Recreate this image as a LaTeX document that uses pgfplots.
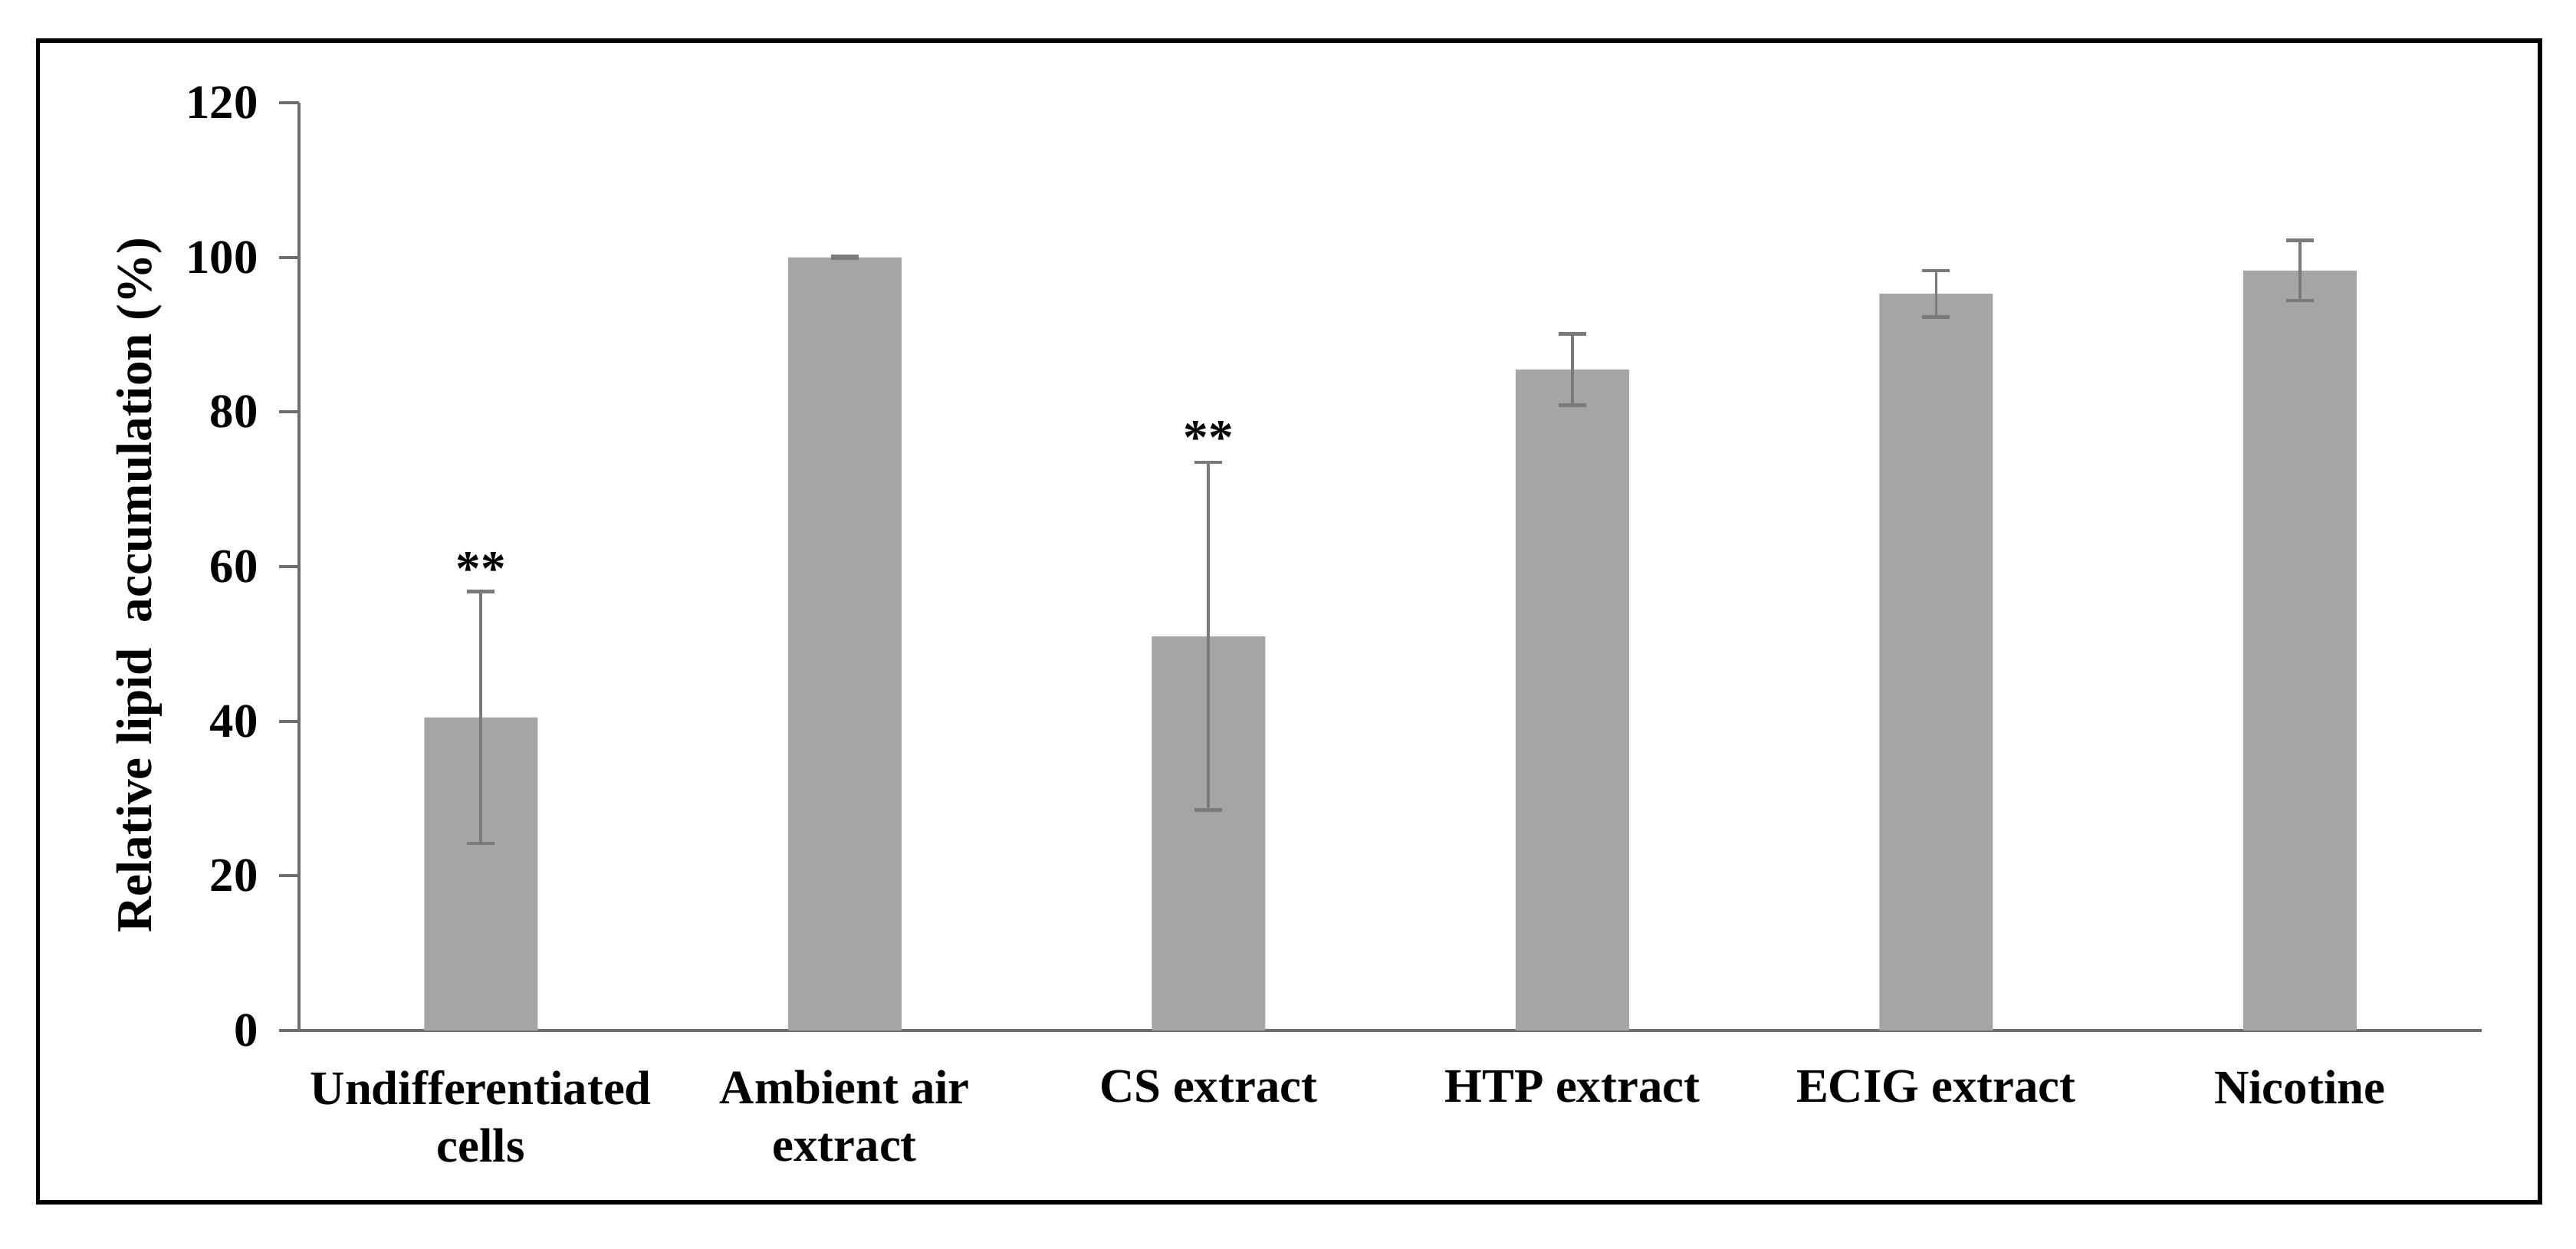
\documentclass[border=0pt]{standalone}
\usepackage{pgfplots}
\pgfplotsset{compat=1.18}
\usepackage{fontspec}
\setmainfont{Liberation Serif}
\definecolor{bargray}{HTML}{A5A5A5}
\definecolor{errgray}{HTML}{7A7A7A}
\definecolor{axgray}{HTML}{6E6E6E}
\begin{document}
\begin{tikzpicture}
\path (0,0) rectangle (23.52,11.396);
\draw[line width=1.1pt, black] (0.3465,0.42) rectangle (23.19,11.025);
\begin{axis}[
  at={(2.73cm,1.988cm)}, anchor=south west,
  scale only axis=true,
  width=19.929cm, height=8.47cm,
  xmin=-0.5, xmax=5.5, ymin=0, ymax=120,
  axis x line=bottom, axis y line=left,
  axis line style={draw=axgray, line width=0.8pt, -},
  ytick={0,20,40,60,80,100,120},
  xtick={0,1,2,3,4,5},
  xticklabels={{Undifferentiated\\cells},{Ambient air\\extract},{CS extract},{HTP extract},{ECIG extract},{Nicotine}},
  xticklabel style={align=center, font=\fontsize{12.5}{15}\selectfont\bfseries, yshift=-1.7pt},
  yticklabel style={font=\fontsize{12.5}{15}\selectfont\bfseries, xshift=-2pt},
  /pgf/number format/assume math mode=true,
  tick align=outside,
  major tick length=0.18cm,
  major x tick style={draw=none},
  major y tick style={draw=axgray, line width=0.8pt},
  ylabel={Relative lipid\ \ accumulation (\%)},
  ylabel style={at={(axis description cs:-0.0733,0.48)}, anchor=center, font=\fontsize{13}{15}\selectfont\bfseries},
  clip=false,
]
\addplot[ybar, bar width=1.036cm, bar shift=0pt, fill=bargray, draw=none,
  error bars/.cd, y dir=both, y explicit,
  error bar style={draw=errgray, line width=0.7pt},
  error mark options={rotate=90, draw=errgray, line width=0.9pt, mark size=3.6pt}]
  coordinates {
  (0,40.5) +- (0,16.3)
  (1,100.0) +- (0,0.1)
  (2,51.0) +- (0,22.5)
  (3,85.5) +- (0,4.6)
  (4,95.3) +- (0,3.0)
  (5,98.3) +- (0,3.9)
  };
\node[anchor=base, inner sep=0pt, font=\fontsize{13}{15}\selectfont\bfseries] at (axis cs:0,57.6) {**};
\node[anchor=base, inner sep=0pt, font=\fontsize{13}{15}\selectfont\bfseries] at (axis cs:2,74.5) {**};
\end{axis}
\end{tikzpicture}
\end{document}
